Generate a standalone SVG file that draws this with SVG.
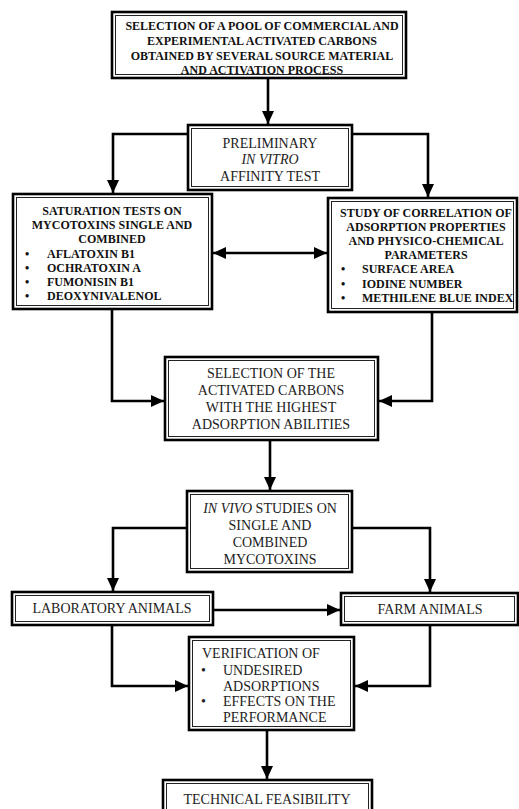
<svg xmlns="http://www.w3.org/2000/svg" width="519" height="809" viewBox="0 0 519 809">
<style>
.o{fill:#fff;stroke:#000;stroke-width:2.6}
.i{fill:none;stroke:#222;stroke-width:1}
.b{font-family:"Liberation Serif","Times New Roman",serif;font-size:12px;font-weight:bold;fill:#111}
.r{font-family:"Liberation Serif","Times New Roman",serif;font-size:14px;fill:#222}
.c{text-anchor:middle}
.e{fill:none;stroke:#000;stroke-width:2.6}
</style>
<defs>
<marker id="ah" markerUnits="userSpaceOnUse" markerWidth="14" markerHeight="14" viewBox="0 0 14 14" refX="13" refY="7" orient="auto-start-reverse">
<path d="M0,1 L13,7 L0,13 z" fill="#000"/>
</marker>
</defs>
<rect width="519" height="809" fill="#fff"/>
<g id="connectors">
<path class="e" d="M268,78 V124" marker-end="url(#ah)"/>
<path class="e" d="M188,134 H113 V193" marker-end="url(#ah)"/>
<path class="e" d="M352,134 H428 V197" marker-end="url(#ah)"/>
<path class="e" d="M213,253 H327" marker-start="url(#ah)" marker-end="url(#ah)"/>
<path class="e" d="M112,309 V401 H164" marker-end="url(#ah)"/>
<path class="e" d="M432,312 V401 H379" marker-end="url(#ah)"/>
<path class="e" d="M270,440 V490" marker-end="url(#ah)"/>
<path class="e" d="M187,528 H113 V591" marker-end="url(#ah)"/>
<path class="e" d="M352,528 H430 V592" marker-end="url(#ah)"/>
<path class="e" d="M213,610 H340" marker-end="url(#ah)"/>
<path class="e" d="M112,625 V686 H188" marker-end="url(#ah)"/>
<path class="e" d="M430,625 V686 H355" marker-end="url(#ah)"/>
<path class="e" d="M267,730 V779" marker-end="url(#ah)"/>
</g>
<g id="n1">
<rect class="o" x="112" y="12" width="294" height="66"/>
<rect class="i" x="115.5" y="15.5" width="287" height="59"/>
<text class="b c" x="262" y="30">SELECTION OF A POOL OF COMMERCIAL AND</text>
<text class="b c" x="262" y="45">EXPERIMENTAL ACTIVATED  CARBONS</text>
<text class="b c" x="262" y="60">OBTAINED BY SEVERAL SOURCE MATERIAL</text>
<text class="b c" x="262" y="74">AND  ACTIVATION PROCESS</text>
</g>
<g id="n2">
<rect class="o" x="188" y="125" width="164" height="65"/>
<rect class="i" x="191.5" y="128.5" width="157" height="58"/>
<text class="r c" x="270" y="148">PRELIMINARY</text>
<text class="r c" x="270" y="164" font-style="italic">IN VITRO</text>
<text class="r c" x="270" y="181">AFFINITY TEST</text>
</g>
<g id="n3">
<rect class="o" x="13" y="194" width="199" height="115"/>
<rect class="i" x="16.5" y="197.5" width="192" height="108"/>
<text class="b c" x="112" y="215">SATURATION TESTS ON</text>
<text class="b c" x="112" y="229">MYCOTOXINS SINGLE AND</text>
<text class="b c" x="112" y="243">COMBINED</text>
<text class="b" x="25" y="258">•</text><text class="b" x="47" y="258">AFLATOXIN B1</text>
<text class="b" x="25" y="272">•</text><text class="b" x="47" y="272">OCHRATOXIN A</text>
<text class="b" x="25" y="286">•</text><text class="b" x="47" y="286">FUMONISIN B1</text>
<text class="b" x="25" y="300">•</text><text class="b" x="47" y="300">DEOXYNIVALENOL</text>
</g>
<g id="n4">
<rect class="o" x="328" y="198" width="189" height="114"/>
<rect class="i" x="331.5" y="201.5" width="182" height="107"/>
<text class="b c" x="426" y="217">STUDY OF CORRELATION OF</text>
<text class="b c" x="426" y="231">ADSORPTION PROPERTIES</text>
<text class="b c" x="426" y="245">AND PHYSICO-CHEMICAL</text>
<text class="b c" x="426" y="259">PARAMETERS</text>
<text class="b" x="341" y="273">•</text><text class="b" x="362" y="273">SURFACE AREA</text>
<text class="b" x="341" y="288">•</text><text class="b" x="362" y="288">IODINE NUMBER</text>
<text class="b" x="341" y="302">•</text><text class="b" x="362" y="302">METHILENE BLUE INDEX</text>
</g>
<g id="n5">
<rect class="o" x="165" y="357" width="213" height="83"/>
<rect class="i" x="168.5" y="360.5" width="206" height="76"/>
<text class="r c" x="271" y="378">SELECTION OF THE</text>
<text class="r c" x="271" y="395">ACTIVATED CARBONS</text>
<text class="r c" x="271" y="412">WITH THE HIGHEST</text>
<text class="r c" x="271" y="429">ADSORPTION ABILITIES</text>
</g>
<g id="n6">
<rect class="o" x="187" y="491" width="165" height="81"/>
<rect class="i" x="190.5" y="494.5" width="158" height="74"/>
<text class="r c" x="270" y="513"><tspan font-style="italic">IN VIVO</tspan> STUDIES ON</text>
<text class="r c" x="270" y="530">SINGLE AND</text>
<text class="r c" x="270" y="547">COMBINED</text>
<text class="r c" x="270" y="564">MYCOTOXINS</text>
</g>
<g id="n7">
<rect class="o" x="12" y="592" width="201" height="33"/>
<rect class="i" x="15.5" y="595.5" width="194" height="26"/>
<text class="r c" x="112" y="613">LABORATORY ANIMALS</text>
</g>
<g id="n8">
<rect class="o" x="341" y="593" width="177" height="32"/>
<rect class="i" x="344.5" y="596.5" width="170" height="25"/>
<text class="r c" x="430" y="614">FARM ANIMALS</text>
</g>
<g id="n9">
<rect class="o" x="189" y="637" width="165" height="93"/>
<rect class="i" x="192.5" y="640.5" width="158" height="86"/>
<text class="r" x="202" y="658" font-size="13" fill="#444">VERIFICATION OF</text>
<text class="r" x="201" y="675" font-size="13" fill="#000">•</text><text class="r" x="223" y="675" font-size="13" fill="#444">UNDESIRED</text>
<text class="r" x="223" y="691" font-size="13" fill="#444">ADSORPTIONS</text>
<text class="r" x="201" y="706" font-size="13" fill="#000">•</text><text class="r" x="223" y="706" font-size="13" fill="#000">EFFECTS ON THE</text>
<text class="r" x="223" y="722" font-size="13" fill="#000">PERFORMANCE</text>
</g>
<g id="n10">
<rect class="o" x="163" y="780" width="209" height="40"/>
<rect class="i" x="166.5" y="783.5" width="202" height="33"/>
<text class="r c" x="267" y="804">TECHNICAL FEASIBILITY</text>
</g>
</svg>
